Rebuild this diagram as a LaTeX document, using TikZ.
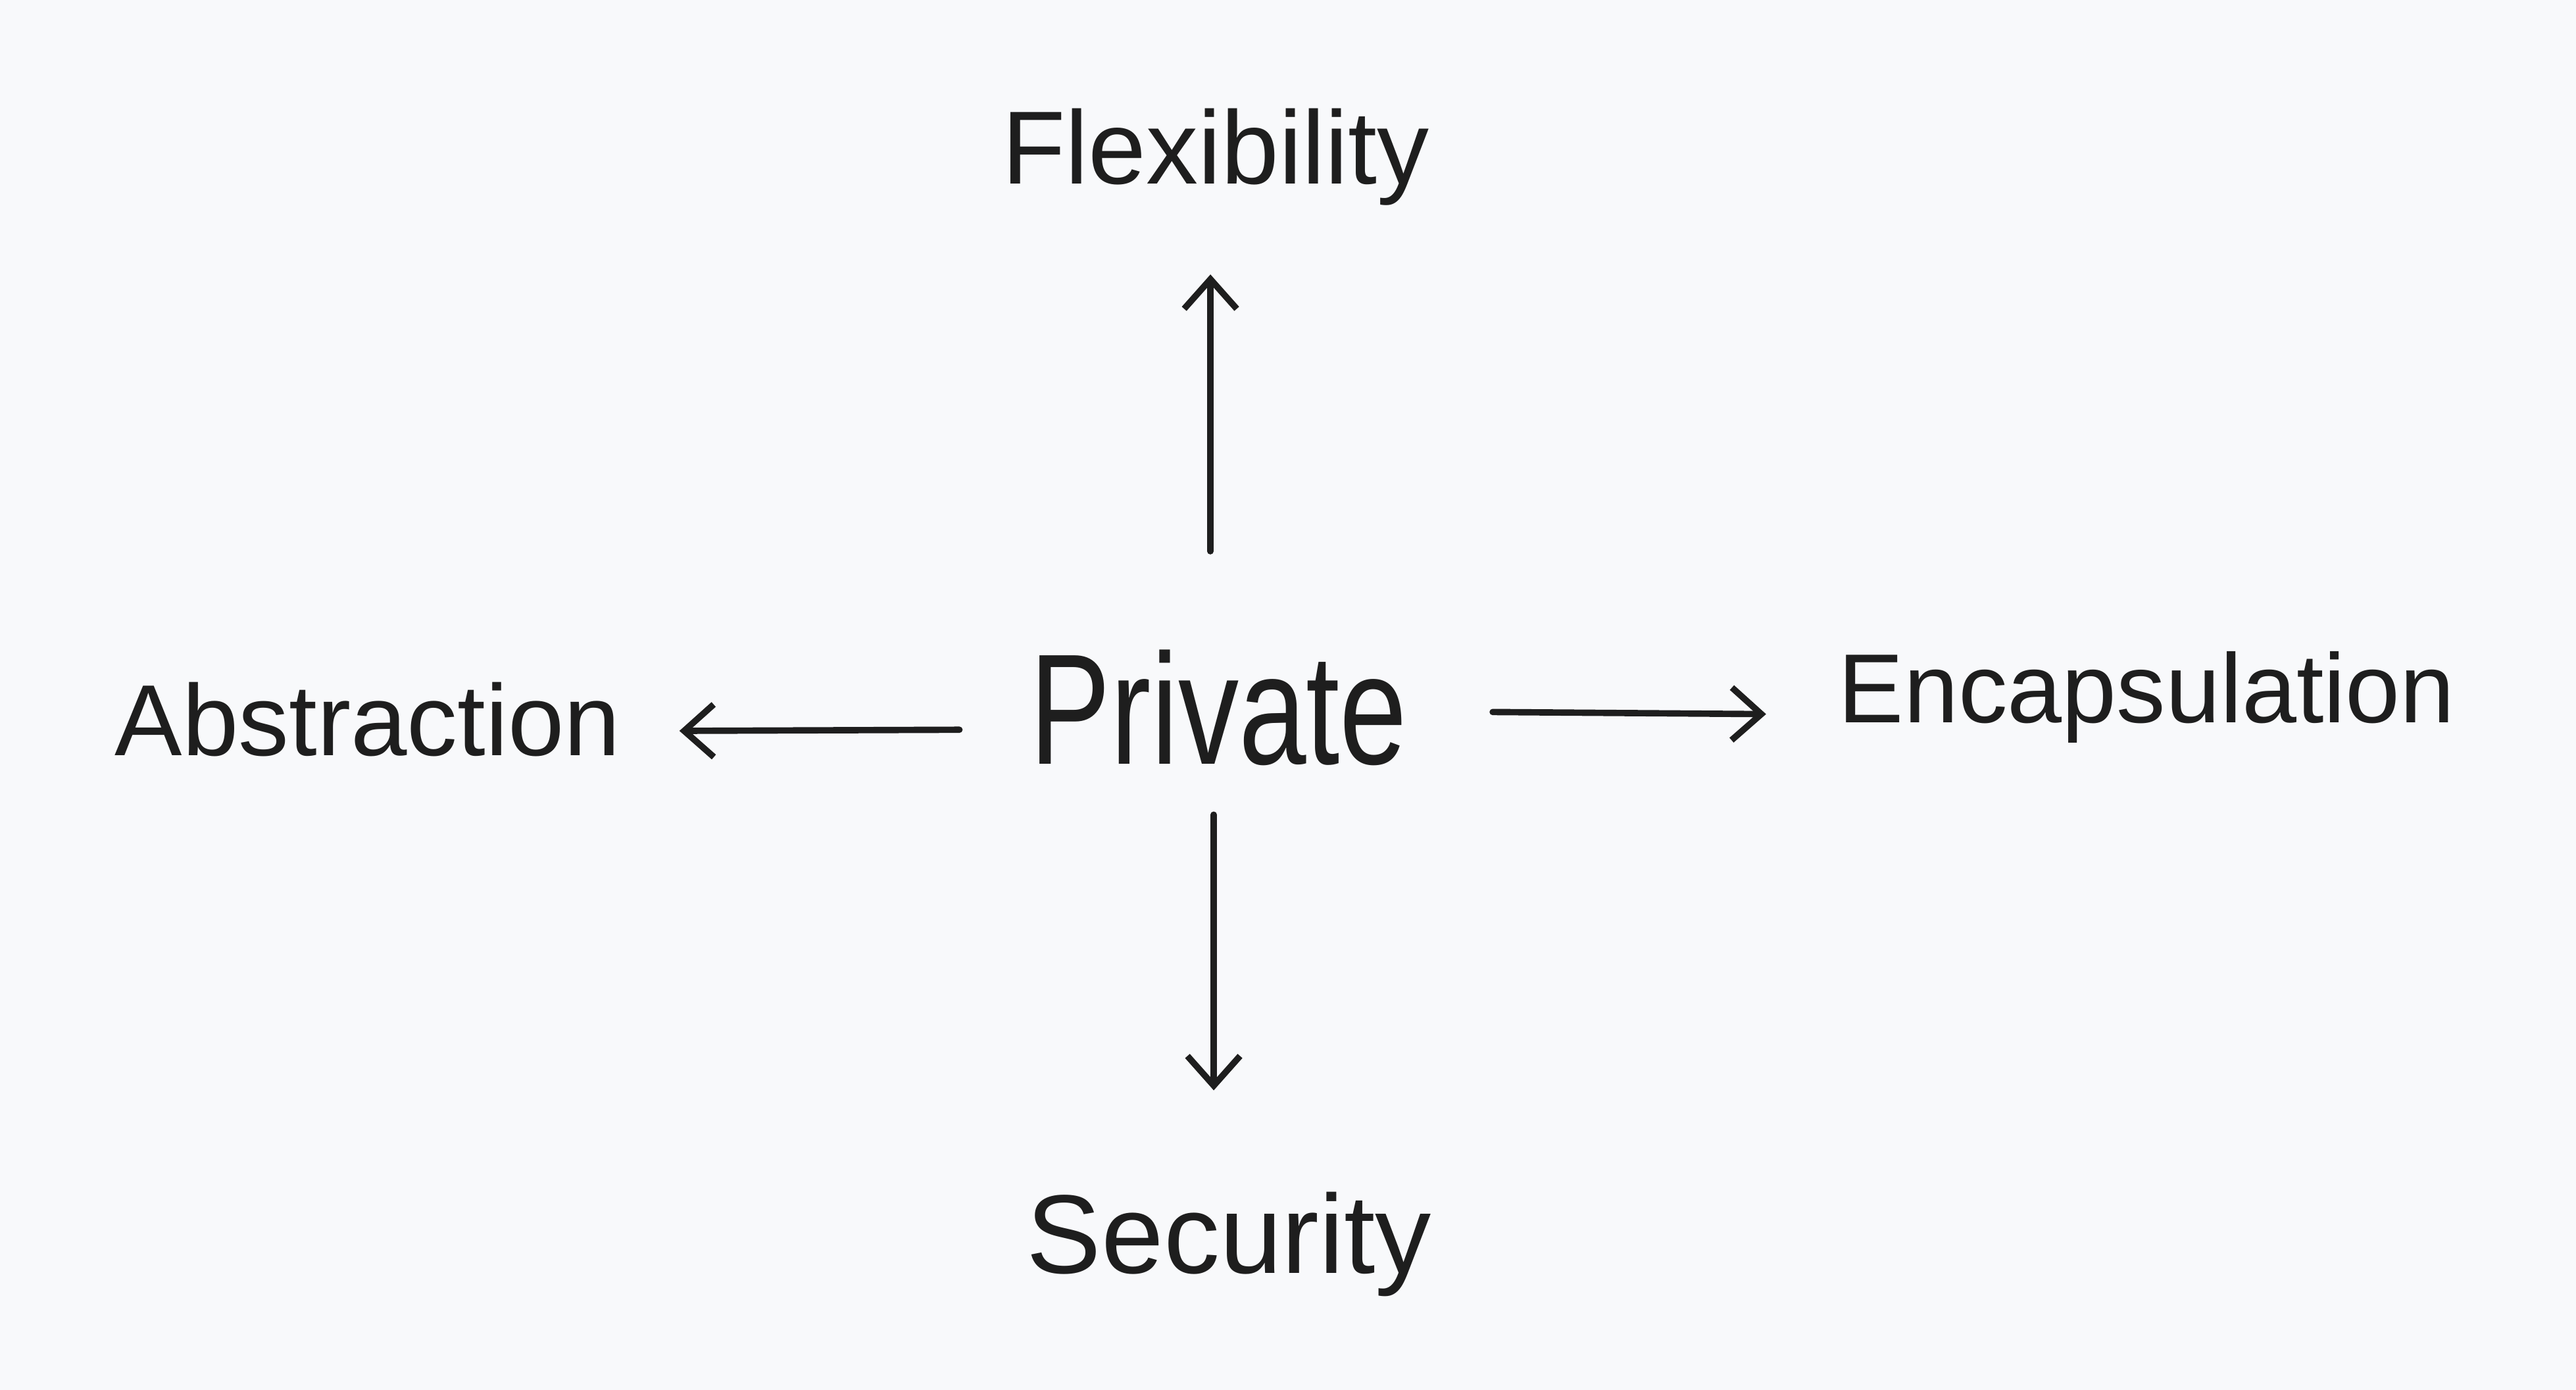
\documentclass[tikz,border=0pt]{standalone}
\usepackage{fontspec}
\setmainfont{Liberation Sans}
\usepackage{tikz}
\usetikzlibrary{arrows.meta,positioning}
\definecolor{ink}{HTML}{1E1E1E}
\definecolor{paper}{HTML}{F8F9FB}
\newcommand{\tallword}[1]{\scalebox{1}[1.3]{#1}}

\begin{document}
\begin{tikzpicture}[line width=1.1pt,
	word/.style={inner sep=0pt, text=ink, anchor=base west},
	arr/.style={-{Straight Barb[length=1.8mm,width=3.2mm]}, draw=ink, line cap=round, line join=round}]
	\fill[paper] (0,0) rectangle (15.68,-8.46);
	\useasboundingbox (0,0) rectangle (15.68,-8.46);

	\node[word,font=\fontsize{21}{25}\selectfont] (priv) at (6.25,-4.65) {\tallword{Private}};
	\node[word,font=\fontsize{18}{22}\selectfont] (flex) at (6.08,-1.12) {Flexibility};
	\node[word,font=\fontsize{17.5}{21}\selectfont] (abs) at (0.68,-4.60) {Abstraction};
	\node[word,font=\fontsize{17}{21}\selectfont] (enc) at (11.17,-4.40) {Encapsulation};
	\node[word,font=\fontsize{19.4}{23}\selectfont] (sec) at (6.23,-7.75) {Security};

	\draw[arr, shorten <=5.8mm, shorten >=4mm] ([xshift=-0.5mm]priv.north) -- ([xshift=-0.5mm]priv.north |- flex.south);
	\draw[arr, shorten <=2.8mm, shorten >=6mm] ([xshift=-0.3mm]priv.south) -- ([xshift=-0.3mm]priv.south |- sec.north);
	\draw[arr, shorten <=4.1mm, shorten >=3.4mm] ([yshift=2.1mm]priv.base west) -- ([yshift=1.5mm]abs.base east);
	\draw[arr, shorten <=5mm, shorten >=4.2mm] ([yshift=3.2mm]priv.base east) -- ([yshift=0.5mm]enc.base west);
\end{tikzpicture}
\end{document}
